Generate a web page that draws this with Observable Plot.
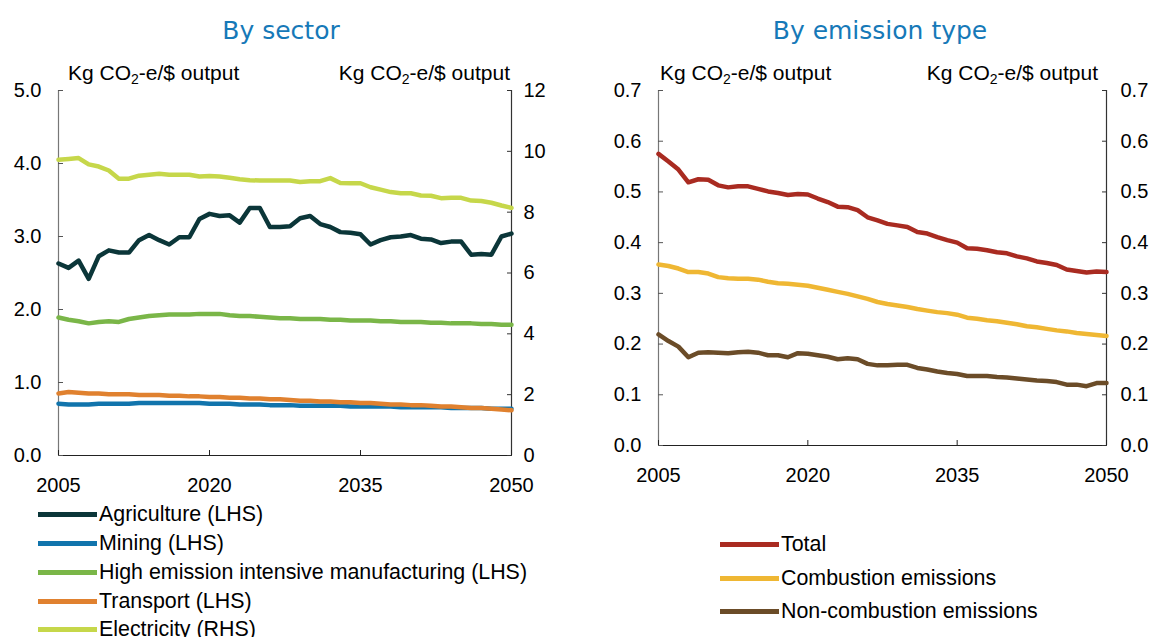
<!DOCTYPE html>
<html><head><meta charset="utf-8">
<script src="https://cdn.jsdelivr.net/npm/d3@7"></script>
<script src="https://cdn.jsdelivr.net/npm/@observablehq/plot@0.6"></script>
<style>
body{margin:0;width:1153px;height:637px;overflow:hidden;background:#fff;font-family:"Liberation Sans",Arial,sans-serif;position:relative;color:#000}
.title{position:absolute;top:16px;font-family:"DejaVu Sans",sans-serif;font-size:25px;color:#1679b8;white-space:nowrap;transform:translateX(-50%)}
.unit{position:absolute;top:61px;font-size:21px;white-space:nowrap;line-height:24px}
.unit sub{font-size:14px;vertical-align:-4px;line-height:0}
.leg{position:absolute;font-size:21.4px;white-space:nowrap;display:flex;align-items:center;height:24px;line-height:24px}
.sw{display:inline-block;width:59px;height:5px;margin-right:2px}
.chart{position:absolute;top:0}
</style></head><body>
<div id="root"></div>
<script>
// ---------- data ----------
const years = [2005,2006,2007,2008,2009,2010,2011,2012,2013,2014,2015,2016,2017,2018,2019,2020,2021,2022,2023,2024,2025,2026,2027,2028,2029,2030,2031,2032,2033,2034,2035,2036,2037,2038,2039,2040,2041,2042,2043,2044,2045,2046,2047,2048,2049,2050];

const sectorNames = ["Agriculture (LHS)","Mining (LHS)","High emission intensive manufacturing (LHS)","Transport (LHS)","Electricity (RHS)"];
const sectorColors = ["#0b3639","#1174ac","#7ab648","#e0812f","#c6d74a"];

const agriculture = [2.63,2.57,2.67,2.42,2.73,2.81,2.78,2.78,2.95,3.02,2.95,2.89,2.99,2.99,3.24,3.31,3.28,3.29,3.19,3.39,3.39,3.13,3.13,3.14,3.25,3.28,3.17,3.13,3.06,3.05,3.03,2.89,2.95,2.99,3.00,3.02,2.97,2.96,2.91,2.93,2.93,2.75,2.76,2.75,3.00,3.04];
const mining = [0.71,0.70,0.70,0.70,0.71,0.71,0.71,0.71,0.72,0.72,0.72,0.72,0.72,0.72,0.72,0.71,0.71,0.71,0.70,0.70,0.70,0.69,0.69,0.69,0.68,0.68,0.68,0.68,0.68,0.67,0.67,0.67,0.67,0.67,0.66,0.66,0.66,0.66,0.66,0.65,0.65,0.65,0.65,0.64,0.64,0.64];
const manufacturing = [1.89,1.86,1.84,1.81,1.83,1.84,1.83,1.87,1.89,1.91,1.92,1.93,1.93,1.93,1.94,1.94,1.94,1.92,1.91,1.91,1.90,1.89,1.88,1.88,1.87,1.87,1.87,1.86,1.86,1.85,1.85,1.85,1.84,1.84,1.83,1.83,1.83,1.82,1.82,1.81,1.81,1.81,1.80,1.80,1.79,1.79];
const transport = [0.85,0.87,0.86,0.85,0.85,0.84,0.84,0.84,0.83,0.83,0.83,0.82,0.82,0.81,0.81,0.80,0.80,0.79,0.79,0.78,0.78,0.77,0.77,0.76,0.75,0.75,0.74,0.74,0.73,0.73,0.72,0.72,0.71,0.70,0.70,0.69,0.69,0.68,0.67,0.67,0.66,0.65,0.65,0.64,0.63,0.62];
const electricity = [9.72,9.75,9.78,9.57,9.50,9.37,9.10,9.10,9.20,9.23,9.26,9.23,9.23,9.23,9.17,9.19,9.17,9.13,9.08,9.05,9.04,9.04,9.04,9.04,8.99,9.02,9.02,9.12,8.96,8.95,8.95,8.82,8.74,8.66,8.62,8.62,8.55,8.54,8.46,8.47,8.47,8.38,8.37,8.31,8.22,8.14];

const typeNames = ["Total","Combustion emissions","Non-combustion emissions"];
const typeColors = ["#a92b21","#efb733","#6b4c28"];
const total = [0.575,0.560,0.544,0.519,0.525,0.524,0.513,0.509,0.511,0.511,0.506,0.501,0.498,0.494,0.496,0.495,0.487,0.480,0.471,0.470,0.464,0.450,0.444,0.437,0.434,0.431,0.421,0.418,0.411,0.405,0.400,0.389,0.388,0.385,0.381,0.379,0.373,0.369,0.363,0.360,0.356,0.347,0.344,0.341,0.343,0.342];
const combustion = [0.357,0.354,0.349,0.342,0.342,0.339,0.332,0.330,0.329,0.329,0.327,0.323,0.320,0.319,0.317,0.315,0.311,0.307,0.303,0.299,0.294,0.289,0.283,0.279,0.276,0.273,0.269,0.266,0.263,0.261,0.258,0.252,0.250,0.247,0.245,0.242,0.239,0.235,0.233,0.230,0.227,0.225,0.222,0.220,0.218,0.216];
const nonCombustion = [0.219,0.206,0.195,0.174,0.183,0.184,0.183,0.182,0.184,0.185,0.183,0.178,0.178,0.174,0.182,0.181,0.178,0.175,0.170,0.172,0.170,0.161,0.158,0.158,0.159,0.159,0.153,0.150,0.146,0.143,0.141,0.137,0.137,0.137,0.135,0.134,0.132,0.130,0.128,0.127,0.125,0.120,0.120,0.117,0.123,0.123];

const lhsTicks = [0,1,2,3,4,5];
const rhsTicks = [0,2,4,6,8,10,12];
const typeTicks = [0,0.1,0.2,0.3,0.4,0.5,0.6,0.7];
const xTicks = [2005,2020,2035,2050];
const unitLabel = 'Kg CO<sub>2</sub>-e/$ output';

// ---------- build tables ----------
const LHS_MAX = 5, RHS_MAX = 12, k = LHS_MAX / RHS_MAX;
const sectorSeries = [agriculture, mining, manufacturing, transport, electricity];
const sectorRows = [];
sectorSeries.forEach((arr, i) => arr.forEach((v, j) => sectorRows.push({
  series: sectorNames[i], year: years[j], v: sectorNames[i].includes("RHS") ? v * k : v
})));
const typeSeries = [total, combustion, nonCombustion];
const typeRows = [];
typeSeries.forEach((arr, i) => arr.forEach((v, j) => typeRows.push({series: typeNames[i], year: years[j], v})));

const baseStyle = {fontFamily: '"Liberation Sans", Arial, sans-serif', fontSize: "20px", color: "#000", background: "transparent", overflow: "visible"};

function axes(yTicks, yFmt, rTicks, rFmt, padL, padR, padX) {
  return [
    Plot.ruleX([years[0]], {stroke: "#777", strokeWidth: 1.2}),
    Plot.ruleX([years[years.length-1]], {stroke: "#333", strokeWidth: 1.2}),
    Plot.ruleY([0], {stroke: "#222", strokeWidth: 1.2}),
    Plot.axisY(yTicks, {anchor: "left", label: null, tickSize: 0, tickPadding: padL, tickFormat: yFmt, fontSize: 20}),
    Plot.axisY(yTicks, {anchor: "left", label: null, tickSize: 5, dx: 5, tickFormat: () => "", stroke: "#555"}),
    Plot.axisY(rTicks, {anchor: "right", label: null, tickSize: 0, tickPadding: padR, tickFormat: rFmt, fontSize: 20}),
    Plot.axisY(rTicks, {anchor: "right", label: null, tickSize: 5, dx: -5, tickFormat: () => "", stroke: "#333"}),
    Plot.axisX(xTicks, {anchor: "bottom", label: null, tickSize: 0, tickPadding: padX, tickFormat: d => String(d), fontSize: 20}),
    Plot.axisX(xTicks, {anchor: "bottom", label: null, tickSize: 5, dy: -5, tickFormat: () => "", stroke: "#222"})
  ];
}

const left = Plot.plot({
  width: 576, height: 500,
  marginLeft: 58, marginRight: 65, marginTop: 90, marginBottom: 45,
  x: {domain: [2005, 2050], label: null},
  y: {domain: [0, LHS_MAX], label: null},
  color: {domain: sectorNames, range: sectorColors},
  style: baseStyle,
  marks: [
    ...axes(lhsTicks, d => d.toFixed(1), rhsTicks.map(d => d * k), d => String(Math.round(d / k)), 17, 12, 22),
    Plot.line(sectorRows, {x: "year", y: "v", z: "series", stroke: "series", strokeWidth: 4.5, strokeLinejoin: "round"})
  ]
});

const right = Plot.plot({
  width: 577, height: 490,
  marginLeft: 82, marginRight: 47, marginTop: 90, marginBottom: 45,
  x: {domain: [2005, 2050], label: null},
  y: {domain: [0, 0.7], label: null},
  color: {domain: typeNames, range: typeColors},
  style: baseStyle,
  marks: [
    ...axes(typeTicks, d => d.toFixed(1), typeTicks, d => d.toFixed(1), 17, 14, 22),
    Plot.line(typeRows, {x: "year", y: "v", z: "series", stroke: "series", strokeWidth: 4.5, strokeLinejoin: "round"})
  ]
});

const root = document.getElementById("root");
left.classList.add("chart"); left.style.left = "0px";
right.classList.add("chart"); right.style.left = "576px";
root.appendChild(left); root.appendChild(right);

function addDiv(cls, html, css) {
  const d = document.createElement("div");
  d.className = cls; d.innerHTML = html;
  Object.assign(d.style, css);
  root.appendChild(d); return d;
}
addDiv("title", "By sector", {left: "281px"});
addDiv("title", "By emission type", {left: "880px"});
addDiv("unit", unitLabel, {left: "68px"});
addDiv("unit", unitLabel, {right: (1153 - 510) + "px"});
addDiv("unit", unitLabel, {left: "660px"});
addDiv("unit", unitLabel, {right: (1153 - 1098) + "px"});

const legTopL = [502, 531, 560, 589, 617];
sectorNames.forEach((n, i) => addDiv("leg", `<span class="sw" style="background:${sectorColors[i]}"></span>${n}`, {left: "38px", top: legTopL[i] + "px"}));
const legTopR = [532, 566, 599];
typeNames.forEach((n, i) => addDiv("leg", `<span class="sw" style="background:${typeColors[i]}"></span>${n}`, {left: "720px", top: legTopR[i] + "px"}));
</script>
</body></html>
